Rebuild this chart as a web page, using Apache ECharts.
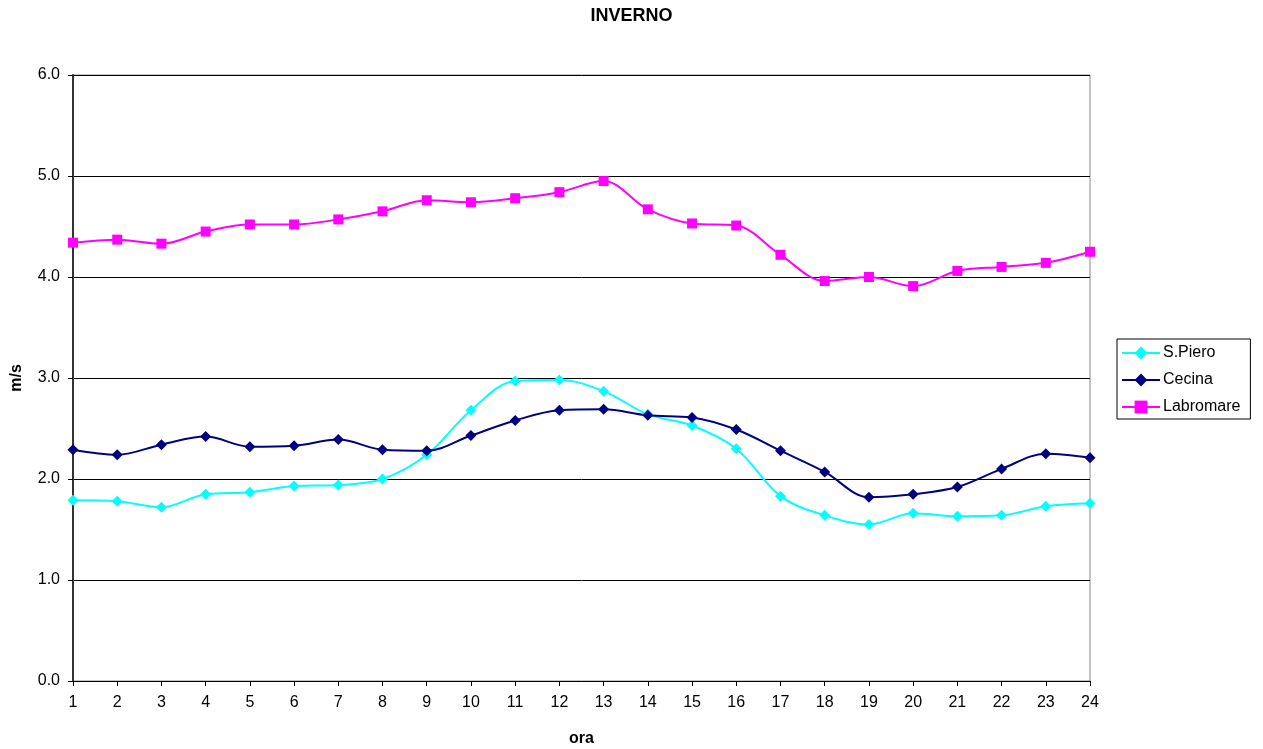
<!DOCTYPE html>
<html>
<head>
<meta charset="utf-8">
<script src="https://cdn.jsdelivr.net/npm/echarts@6/dist/echarts.min.js"></script>
<style>
  html, body { margin: 0; padding: 0; background: #fff; }
  #chart { width: 1263px; height: 749px; }
</style>
</head>
<body>
<div id="chart"></div>
<script>
// Hours of the day
var hours = ['1','2','3','4','5','6','7','8','9','10','11','12','13','14','15','16','17','18','19','20','21','22','23','24'];

// Mean wind speed (m/s) per hour, winter
var sPiero = [1.79,1.78,1.72,1.85,1.87,1.93,1.94,2.00,2.24,2.68,2.97,2.98,2.87,2.64,2.53,2.30,1.83,1.64,1.55,1.66,1.63,1.64,1.73,1.76];
var cecina = [2.29,2.24,2.34,2.42,2.32,2.33,2.39,2.29,2.28,2.43,2.58,2.68,2.69,2.63,2.61,2.49,2.28,2.07,1.82,1.85,1.92,2.10,2.25,2.21];
var labromare = [4.34,4.37,4.33,4.45,4.52,4.52,4.57,4.65,4.76,4.74,4.78,4.84,4.95,4.67,4.53,4.51,4.22,3.96,4.00,3.91,4.06,4.10,4.14,4.25];

var font = 'Arial, "Liberation Sans", sans-serif';
var chart = echarts.init(document.getElementById('chart'), null, { renderer: 'canvas' });

function lineSeries(name, data, color, symbol, size) {
  return {
    name: name,
    type: 'line',
    data: data,
    smooth: 0.35,
    symbol: symbol,
    symbolSize: size,
    showAllSymbol: true,
    lineStyle: { color: color, width: 2 },
    itemStyle: { color: color },
    emphasis: { disabled: true },
    animation: false
  };
}

chart.setOption({
  animation: false,
  backgroundColor: '#fff',
  title: {
    text: 'INVERNO',
    left: 'center',
    top: 2,
    textStyle: { fontFamily: font, fontSize: 18, fontWeight: 'bold', color: '#000' }
  },
  grid: {
    left: 73, right: 173, top: 75, bottom: 68,
    containLabel: false,
    outerBoundsMode: 'none',
    show: true, borderColor: '#888', borderWidth: 1, backgroundColor: 'transparent'
  },
  legend: {
    orient: 'vertical',
    left: 1117, top: 339,
    padding: [6, 10, 4, 4],
    itemGap: 11,
    itemWidth: 38,
    itemHeight: 16,
    borderColor: '#000',
    borderWidth: 1,
    textStyle: { fontFamily: font, fontSize: 16, color: '#000', padding: [0, 0, 0, -2] },
    data: ['S.Piero', 'Cecina', 'Labromare']
  },
  xAxis: {
    type: 'category',
    data: hours,
    boundaryGap: false,
    name: 'ora',
    nameLocation: 'middle',
    nameGap: 50,
    nameTextStyle: { fontFamily: font, fontSize: 16, fontWeight: 'bold', color: '#000' },
    axisLine: { lineStyle: { color: '#000', width: 1 } },
    axisTick: { show: true, inside: false, length: 5, alignWithLabel: true, lineStyle: { color: '#000' } },
    axisLabel: { fontFamily: font, fontSize: 16, color: '#000', margin: 14, interval: 0 },
    splitLine: { show: false }
  },
  yAxis: {
    type: 'value',
    min: 0, max: 6, interval: 1,
    name: 'm/s',
    nameLocation: 'middle',
    nameGap: 48,
    nameRotate: 90,
    nameTextStyle: { fontFamily: font, fontSize: 16, fontWeight: 'bold', color: '#000' },
    axisLine: { show: true, lineStyle: { color: '#333', width: 2 } },
    axisTick: { show: true, inside: false, length: 5, lineStyle: { color: '#000' } },
    axisLabel: {
      fontFamily: font, fontSize: 16, color: '#000', margin: 13,
      formatter: function (v) { return v.toFixed(1); }
    },
    splitLine: { show: true, lineStyle: { color: '#000', width: 1 } }
  },
  series: [
    lineSeries('S.Piero', sPiero, '#00FFFF', 'diamond', 11),
    lineSeries('Cecina', cecina, '#000080', 'diamond', 11),
    lineSeries('Labromare', labromare, '#FF00FF', 'rect', 10)
  ]
});
</script>
</body>
</html>
